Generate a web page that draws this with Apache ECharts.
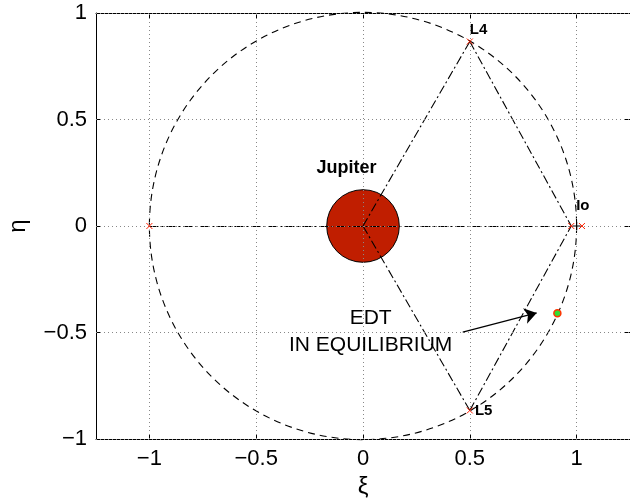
<!DOCTYPE html>
<html>
<head>
<meta charset="utf-8">
<script src="https://cdn.jsdelivr.net/npm/echarts@6/dist/echarts.min.js"></script>
<style>html,body{margin:0;padding:0;background:#fff}#c{width:630px;height:498px}</style>
</head>
<body>
<div id="c"></div>
<script>
// ---- data ----
const xTicks = [-1, -0.5, 0, 0.5, 1];
const yTicks = [-1, -0.5, 0, 0.5, 1];
const xRange = [-1.25, 1.25];
const yRange = [-1, 1];
// circles: [cx, cy, r]  (orbit of Io, Jupiter)
const circles = [[0, 0, 1], [0, 0, 0.17]];
// key points
const L1 = [0.975, 0], L2 = [1.025, 0], L3 = [-1, 0];
const L4 = [0.5, 0.866], L5 = [0.5, -0.866];
const Io = [1, 0], Origin = [0, 0];
const EDT = [0.91, -0.41];
const redMarks = [L3, L4, L5, L1, L2];
// dash-dot segments
const segments = [[L3, L1], [Origin, L4], [Origin, L5], [L4, L1], [L5, L1]];
// arrow from annotation to EDT point
const arrow = [[0.467, -0.498], [0.813, -0.408]];
// text labels: [x, y, text]
const boldLabels = [[0.5, 0.92, 'L4'], [0.524, -0.869, 'L5'], [0.998, 0.094, 'Io']];
const jupiterLabel = [-0.077, 0.272, 'Jupiter'];
const edtLabel = [0.036, -0.495, 'EDT\nIN EQUILIBRIUM'];

const fmt = v => String(v).replace('-', '\u2212');
const font = 'Liberation Sans, Arial, Helvetica, sans-serif';

const chart = echarts.init(document.getElementById('c'), null, {renderer: 'canvas'});
const axisCommon = {
  type: 'value',
  axisLine: {show: true, onZero: false, lineStyle: {color: '#000', width: 1}},
  splitLine: {show: false}
};
chart.setOption({
  animation: false,
  backgroundColor: '#fff',
  grid: {left: 96, right: 0, top: 13, bottom: 59, containLabel: false, outerBoundsMode: 'none'},
  xAxis: [
    Object.assign({}, axisCommon, {
      min: xRange[0], max: xRange[1], position: 'bottom',
      name: '\u03be', nameLocation: 'middle', nameGap: 36,
      nameTextStyle: {fontSize: 24, fontFamily: font, color: '#000'},
      axisTick: {inside: true, length: 5, customValues: xTicks, lineStyle: {color: '#000'}},
      axisLabel: {customValues: xTicks, formatter: fmt, fontSize: 22, fontFamily: font, color: '#000', margin: 9}
    }),
    Object.assign({}, axisCommon, {
      min: xRange[0], max: xRange[1], position: 'top',
      axisTick: {inside: true, length: 5, customValues: xTicks, lineStyle: {color: '#000'}},
      axisLabel: {show: false}
    })
  ],
  yAxis: [
    Object.assign({}, axisCommon, {
      min: yRange[0], max: yRange[1], interval: 0.5, position: 'left',
      name: '\u03b7', nameLocation: 'middle', nameGap: 66, nameRotate: 90,
      nameTextStyle: {fontSize: 24, fontFamily: font, color: '#000'},
      axisTick: {inside: true, length: 5, lineStyle: {color: '#000'}},
      axisLabel: {formatter: fmt, fontSize: 22, fontFamily: font, color: '#000', margin: 9}
    }),
    Object.assign({}, axisCommon, {
      min: yRange[0], max: yRange[1], interval: 0.5, position: 'right',
      axisTick: {inside: true, length: 5, lineStyle: {color: '#000'}},
      axisLabel: {show: false}
    })
  ],
  series: [
    // grid lines
    {
      type: 'line', data: [], z: 1, silent: true,
      markLine: {
        silent: true, symbol: 'none', animation: false,
        label: {show: false},
        lineStyle: {color: '#888', type: [1, 3], width: 1},
        data: xTicks.map(v => ({xAxis: v})).concat(yTicks.map(v => ({yAxis: v})))
      }
    },
    // circles
    {
      type: 'custom', z: 3, silent: true,
      data: circles,
      renderItem: function (params, api) {
        const c = api.coord([api.value(0), api.value(1)]);
        const r = api.size([api.value(2), 0])[0];
        const isPlanet = params.dataIndex === 1;
        return {
          type: 'circle',
          shape: {cx: c[0], cy: c[1], r: r},
          style: isPlanet
            ? {fill: '#c01e00', stroke: '#000', lineWidth: 1}
            : {fill: 'none', stroke: '#000', lineWidth: 1.1, lineDash: [7, 5]}
        };
      }
    },
    // dash-dot lines
    {
      type: 'lines', coordinateSystem: 'cartesian2d', z: 4, silent: true,
      lineStyle: {color: '#000', width: 1.1, type: [9, 3, 2, 3], opacity: 1},
      data: segments.map(s => ({coords: s}))
    },
    // arrow
    {
      type: 'lines', coordinateSystem: 'cartesian2d', z: 6, silent: true,
      symbol: ['none', 'arrow'], symbolSize: [7, 12],
      lineStyle: {color: '#000', width: 1.2, opacity: 1},
      data: [{coords: arrow}]
    },
    // red x marks
    {
      type: 'scatter', z: 5, silent: true,
      symbol: 'path://M0,0L10,10M10,0L0,10', symbolSize: 6,
      itemStyle: {color: 'none', borderColor: '#ff2000', borderWidth: 1, opacity: 1},
      data: redMarks
    },
    // Io plus
    {
      type: 'scatter', z: 5, silent: true,
      symbol: 'path://M5,0L5,10M0,5L10,5', symbolSize: 8,
      itemStyle: {color: 'none', borderColor: '#000', borderWidth: 1.2, opacity: 1},
      data: [Io]
    },
    // EDT point
    {
      type: 'scatter', z: 7, silent: true,
      symbol: 'circle', symbolSize: 7,
      itemStyle: {color: '#33dd33', borderColor: '#ff3300', borderWidth: 1.5, opacity: 1},
      data: [EDT]
    },
    // bold labels
    {
      type: 'scatter', z: 8, silent: true, symbolSize: 0,
      itemStyle: {opacity: 1},
      data: boldLabels,
      label: {
        show: true, position: 'right', distance: 0,
        formatter: p => p.value[2],
        fontSize: 15, fontWeight: 'bold', fontFamily: font, color: '#000'
      }
    },
    {
      type: 'scatter', z: 8, silent: true, symbolSize: 0,
      itemStyle: {opacity: 1},
      data: [jupiterLabel],
      label: {
        show: true, position: 'inside',
        formatter: p => p.value[2],
        fontSize: 18, fontWeight: 'bold', fontFamily: font, color: '#000'
      }
    },
    {
      type: 'scatter', z: 8, silent: true, symbolSize: 0,
      itemStyle: {opacity: 1},
      data: [edtLabel],
      label: {
        show: true, position: 'inside', align: 'center',
        formatter: p => p.value[2], lineHeight: 27,
        fontSize: 21, fontFamily: font, color: '#000'
      }
    }
  ]
});
</script>
</body>
</html>
